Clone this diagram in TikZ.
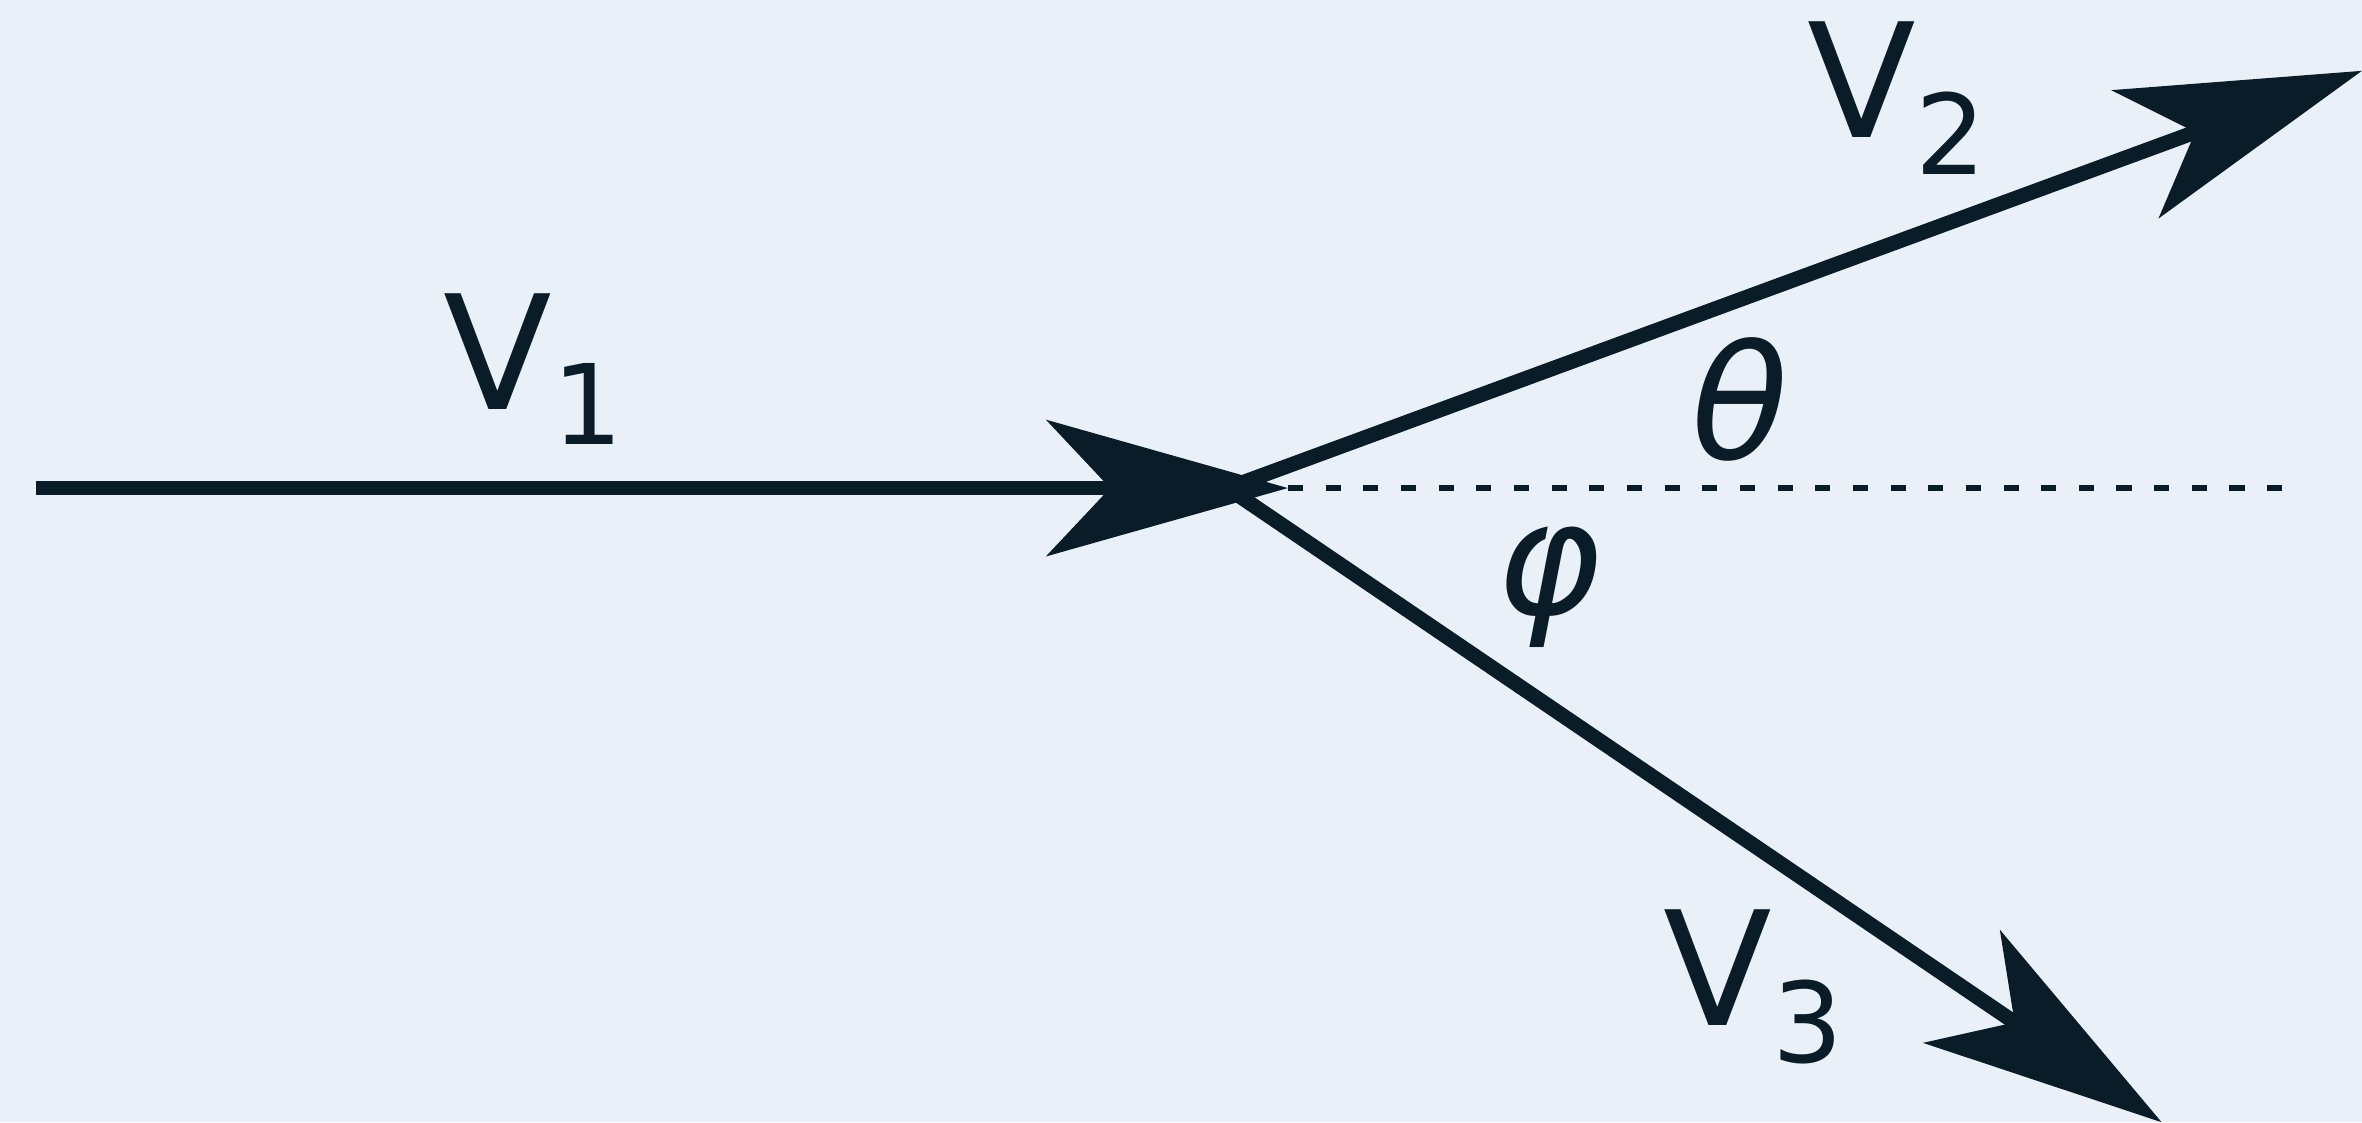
\documentclass[tikz,border=0pt]{standalone}
\usepackage{fontspec}
\setmainfont{DejaVu Sans}
\usetikzlibrary{arrows.meta}
\definecolor{bgcol}{HTML}{E9F0F7}
\definecolor{ink}{HTML}{0A1C28}
\begin{document}
\begin{tikzpicture}[x=1cm,y=1cm, thick,
    vec/.style = {draw=ink, line width=2.8pt, -{Stealth[length=1.6cm, width=0.9cm, inset=0.42cm]}},
    lbl/.style = {text=ink, font=\fontsize{30}{32}\selectfont}]
    \fill[bgcol] (0,0) rectangle (15.68,-7.45);
    \useasboundingbox (0,0) rectangle (15.68,-7.45);
    \coordinate (S) at (0.24,-3.24);
    \coordinate (T1) at (8.55,-3.24);
    \coordinate (O) at (8.15,-3.24);
    \coordinate (T2) at (15.68,-0.47);
    \coordinate (T3) at (14.35,-7.45);
    \coordinate (E) at (15.15,-3.24);
    \draw[ink, line width=1.2pt, dash pattern=on 0.1cm off 0.15cm] (T1) -- (E);
    \draw[vec] (S) -- (T1);
    \draw[vec] (O) -- (T2);
    \draw[vec] (O) -- (T3);
    \node[lbl] (v1) at (3.55,-2.45) {V\textsubscript{1}};
    \node[lbl] (v2) at (12.6,-0.65) {V\textsubscript{2}};
    \node[lbl] (v3) at (11.65,-6.55) {V\textsubscript{3}};
    \node[lbl] (th) at (11.55,-2.65) {\textit{θ}};
    \node[lbl] (ph) at (10.28,-3.9) {\textit{φ}};
\end{tikzpicture}
\end{document}
